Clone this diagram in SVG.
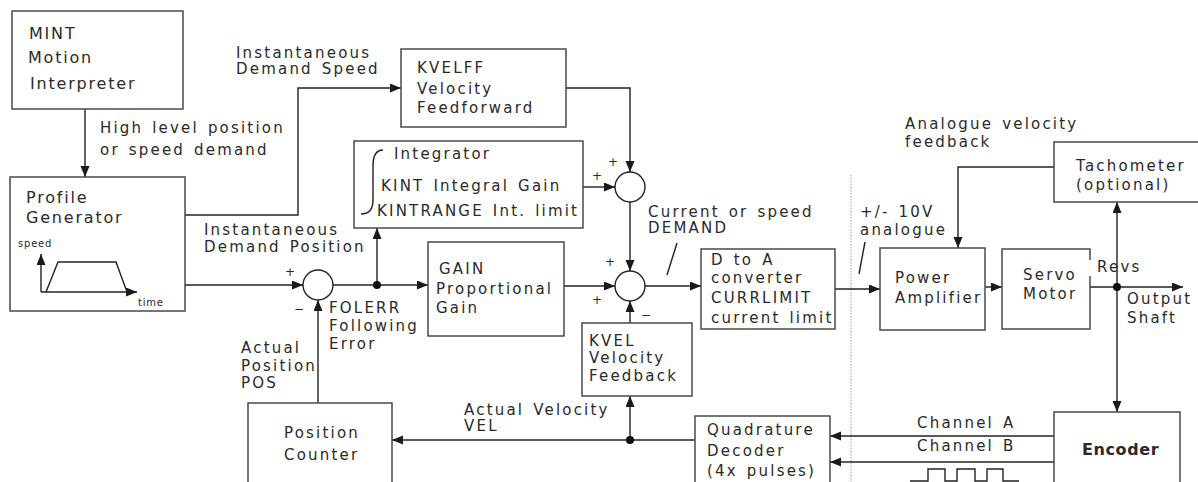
<svg xmlns="http://www.w3.org/2000/svg" width="1198" height="482" viewBox="0 0 1198 482">
  <defs>
    <marker id="arrow" markerUnits="userSpaceOnUse" markerWidth="12" markerHeight="10" refX="11" refY="4.5" orient="auto">
      <path d="M0,0 L11,4.5 L0,9 z" fill="#1a1a1a"/>
    </marker>
    <style>
      .box { fill: #fff; stroke: #4a4a4a; stroke-width: 1.5; }
      .sum { fill: #fff; stroke: #222; stroke-width: 1.4; }
      .wire { fill: none; stroke: #222; stroke-width: 1.4; }
      .arr { marker-end: url(#arrow); }
      .dot { fill: #111; }
      text { font-family: "DejaVu Sans", "Liberation Sans", sans-serif; fill: #2a2a2a; }
      .t { font-size: 15px; letter-spacing: 2.2px; word-spacing: 2px; }
      .big { font-size: 16px; letter-spacing: 1.8px; }
      .sm { font-size: 10px; letter-spacing: 0.8px; }
      .sign { font-size: 12px; }
    </style>
  </defs>

  <!-- separator between controller and drive -->
  <line x1="851" y1="175" x2="851" y2="482" stroke="#999" stroke-width="1" stroke-dasharray="1.5,1.5"/>

  <!-- connectors -->
  <g id="connectors">
    <path class="wire arr" d="M85,109 V177"/>
    <path class="wire arr" d="M185,215 H298 V88 H401"/>
    <path class="wire arr" d="M185,285 H303"/>
    <path class="wire arr" d="M333,285 H428"/>
    <path class="wire arr" d="M377,285 V228"/>
    <path class="wire arr" d="M318,403 V300"/>
    <path class="wire arr" d="M566,88 H630 V172"/>
    <path class="wire arr" d="M583,187 H615"/>
    <path class="wire arr" d="M630,202 V271"/>
    <path class="wire arr" d="M557,286 H615"/>
    <path class="wire arr" d="M630,323 V301"/>
    <path class="wire arr" d="M645,286 H701"/>
    <path class="wire arr" d="M835,289 H880"/>
    <path class="wire arr" d="M985,287 H1002"/>
    <path class="wire arr" d="M1090,287 H1183"/>
    <path class="wire arr" d="M1117,287 V202"/>
    <path class="wire arr" d="M1117,287 V412"/>
    <path class="wire arr" d="M1054,167 H958 V248"/>
    <path class="wire arr" d="M695,440 H392"/>
    <path class="wire arr" d="M630,440 V396"/>
    <path class="wire arr" d="M1054,436 H830"/>
    <path class="wire arr" d="M1054,462 H830"/>
    <circle class="dot" cx="377" cy="285" r="4"/>
    <circle class="dot" cx="630" cy="440" r="4"/>
    <circle class="dot" cx="1117" cy="287" r="4"/>
    <!-- signal tick marks -->
    <line class="wire" x1="677" y1="243" x2="667" y2="275"/>
    <line class="wire" x1="865" y1="242" x2="859" y2="274"/>
    <!-- encoder pulse train -->
    <path class="wire" stroke-width="1.1" d="M910,481 H928 V469 H945 V481 H957 V469 H975 V481 H987 V469 H1003 V481 H1019"/>
  </g>

  <g id="mint">
    <rect class="box" x="12" y="11" width="171" height="98"/>
    <text class="big" x="29" y="39">MINT</text>
    <text class="big" x="28" y="63">Motion</text>
    <text class="big" x="30" y="89">Interpreter</text>
  </g>
  <text class="t" x="100" y="133">High level position</text>
  <text class="t" x="100" y="155">or speed demand</text>
  <text class="t" x="236" y="58">Instantaneous</text>
  <text class="t" x="236" y="74" word-spacing="6">Demand Speed</text>

  <g id="profile">
    <rect class="box" x="10" y="177" width="175" height="134"/>
    <text class="big" x="26" y="203">Profile</text>
    <text class="big" x="26" y="223">Generator</text>
    <text class="sm" x="18" y="247">speed</text>
    <text class="sm" x="138" y="306">time</text>
    <path class="wire" d="M41,292 V254" marker-end="url(#arrow)"/>
    <path class="wire" d="M41,292 H137" marker-end="url(#arrow)"/>
    <path class="wire" d="M46,292 L58,262 H116 L127,292"/>
  </g>

  <text class="t" x="204" y="235">Instantaneous</text>
  <text class="t" x="204" y="252" word-spacing="5">Demand Position</text>

  <g id="sum-position">
    <circle class="sum" cx="318" cy="285" r="15"/>
    <text class="sign" x="285" y="276">+</text>
    <text class="sign" x="294" y="313">−</text>
  </g>
  <text class="t" x="329" y="313">FOLERR</text>
  <text class="t" x="329" y="331">Following</text>
  <text class="t" x="329" y="349">Error</text>
  <text class="t" x="241" y="353">Actual</text>
  <text class="t" x="241" y="371">Position</text>
  <text class="t" x="241" y="388">POS</text>

  <g id="position-counter">
    <rect class="box" x="248" y="403" width="144" height="90"/>
    <text class="t" x="284" y="438">Position</text>
    <text class="t" x="284" y="460">Counter</text>
  </g>

  <g id="kvelff">
    <rect class="box" x="401" y="49" width="165" height="78"/>
    <text class="t" x="417" y="73">KVELFF</text>
    <text class="t" x="417" y="94">Velocity</text>
    <text class="t" x="417" y="113">Feedforward</text>
  </g>

  <g id="integrator">
    <rect class="box" x="354" y="141" width="229" height="87"/>
    <path class="wire" stroke-width="1.2" d="M383,150 C376,150 373,156 373,166 V200 C373,210 368,214 361,214"/>
    <text class="t" x="394" y="159">Integrator</text>
    <text class="t" x="381" y="191" word-spacing="4">KINT Integral Gain</text>
    <text class="t" x="377" y="216">KINTRANGE Int. limit</text>
  </g>

  <g id="sum-feedforward">
    <circle class="sum" cx="630" cy="187" r="15"/>
    <text class="sign" x="608" y="166">+</text>
    <text class="sign" x="592" y="180">+</text>
  </g>
  <text class="t" x="648" y="217" word-spacing="8">Current or speed</text>
  <text class="t" x="648" y="233">DEMAND</text>

  <g id="gain">
    <rect class="box" x="428" y="242" width="136" height="94"/>
    <text class="t" x="439" y="274">GAIN</text>
    <text class="t" x="436" y="294">Proportional</text>
    <text class="t" x="436" y="313">Gain</text>
  </g>

  <g id="sum-demand">
    <circle class="sum" cx="630" cy="286" r="15"/>
    <text class="sign" x="605" y="266">+</text>
    <text class="sign" x="592" y="304">+</text>
    <text class="sign" x="641" y="319">−</text>
  </g>

  <g id="kvel">
    <rect class="box" x="582" y="323" width="110" height="73"/>
    <text class="t" x="589" y="346">KVEL</text>
    <text class="t" x="589" y="363">Velocity</text>
    <text class="t" x="589" y="381">Feedback</text>
  </g>
  <text class="t" x="464" y="415" word-spacing="5">Actual Velocity</text>
  <text class="t" x="464" y="431">VEL</text>

  <g id="dac">
    <rect class="box" x="701" y="249" width="134" height="80"/>
    <text class="t" x="711" y="265" word-spacing="7">D to A</text>
    <text class="t" x="711" y="283">converter</text>
    <text class="t" x="711" y="303">CURRLIMIT</text>
    <text class="t" x="711" y="323" word-spacing="4">current limit</text>
  </g>

  <g id="quadrature">
    <rect class="box" x="695" y="416" width="135" height="80"/>
    <text class="t" x="707" y="435">Quadrature</text>
    <text class="t" x="707" y="456">Decoder</text>
    <text class="t" x="707" y="476" word-spacing="4">(4x pulses)</text>
  </g>

  <text class="t" x="905" y="129" word-spacing="6">Analogue velocity</text>
  <text class="t" x="905" y="147">feedback</text>
  <text class="t" x="860" y="217" word-spacing="6">+/- 10V</text>
  <text class="t" x="860" y="235">analogue</text>

  <g id="tachometer">
    <rect class="box" x="1054" y="142" width="150" height="60"/>
    <text class="t" x="1076" y="171">Tachometer</text>
    <text class="t" x="1076" y="190">(optional)</text>
  </g>

  <g id="power-amplifier">
    <rect class="box" x="880" y="248" width="105" height="82"/>
    <text class="t" x="895" y="283">Power</text>
    <text class="t" x="895" y="303">Amplifier</text>
  </g>

  <g id="servo-motor">
    <rect class="box" x="1002" y="249" width="88" height="80"/>
    <text class="t" x="1023" y="280">Servo</text>
    <text class="t" x="1023" y="299">Motor</text>
  </g>
  <rect x="1088" y="260" width="26" height="16" fill="#fff"/>
  <text class="t" x="1097" y="272">Revs</text>
  <text class="t" x="1127" y="304">Output</text>
  <text class="t" x="1127" y="323">Shaft</text>

  <text class="t" x="917" y="428" word-spacing="5">Channel A</text>
  <text class="t" x="917" y="451" word-spacing="5">Channel B</text>

  <g id="encoder">
    <rect class="box" x="1054" y="412" width="126" height="84"/>
    <text x="1082" y="455" font-size="16" font-weight="bold" font-family="Liberation Sans, Arial, sans-serif" letter-spacing="0.6" fill="#333">Encoder</text>
  </g>
</svg>
